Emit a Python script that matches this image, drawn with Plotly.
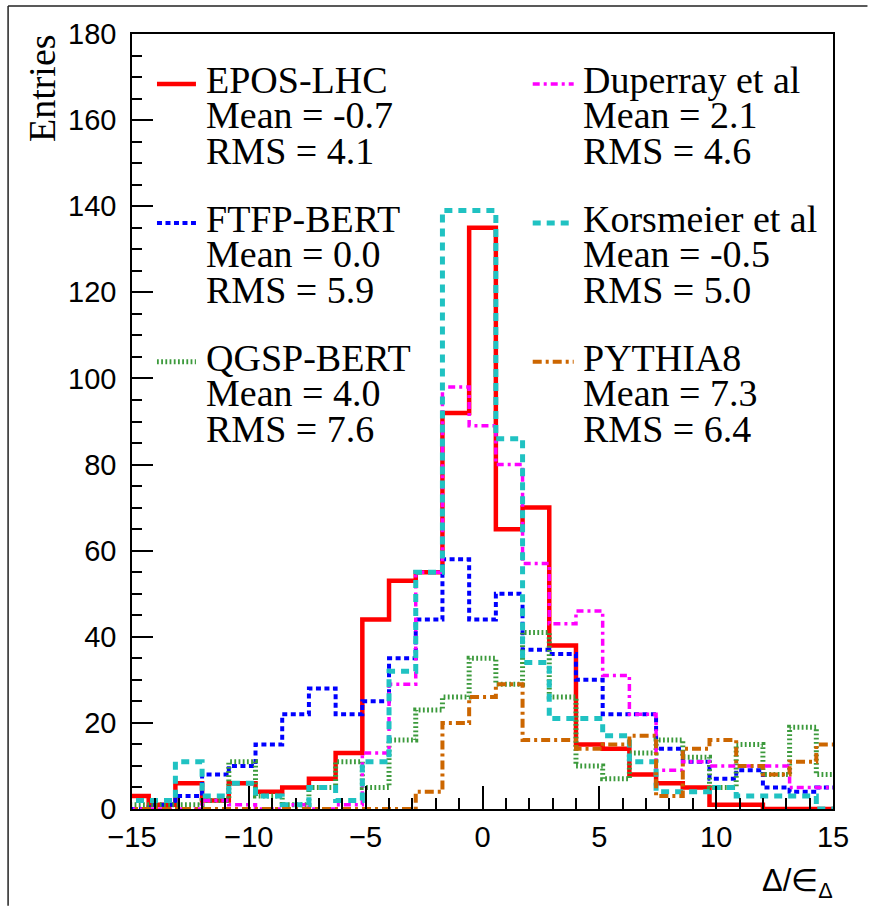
import numpy as np
import plotly.graph_objects as go

# ---------------- data ----------------
# histogram binning: 27 visible bins of width 8/7, edges at odd multiples of 4/7
bin_low = -108 / 7
bin_high = 108 / 7
n_bins = 27

epos_lhc = [3, 1, 6, 2, 6, 4, 5, 7, 13, 44, 53, 55, 92, 135, 65, 70, 38, 15, 14, 8, 6, 5, 1, 1, 0, 0, 0]
ftfp_bert = [0, 1, 3, 8, 10, 15, 22, 28, 22, 25, 35, 44, 58, 44, 50, 37, 36, 30, 22, 22, 14, 11, 7, 9, 5, 4, 5]
qgsp_bert = [1, 1, 1, 2, 11, 3, 1, 5, 11, 5, 16, 23, 26, 35, 29, 41, 26, 10, 7, 13, 16, 12, 5, 15, 8, 19, 8]
duperray = [0, 0, 0, 2, 1, 0, 1, 0, 1, 13, 29, 55, 98, 89, 80, 57, 43, 46, 31, 22, 9, 11, 10, 10, 10, 5, 5]
korsmeier = [2, 2, 11, 3, 6, 3, 1, 5, 2, 11, 32, 55, 139, 139, 86, 34, 21, 21, 17, 11, 4, 4, 5, 3, 3, 3, 0]
pythia8 = [0, 0, 0, 0, 0, 0, 0, 0, 0, 0, 0, 4, 20, 26, 29, 16, 16, 14, 15, 17, 3, 14, 16, 10, 8, 11, 15]

series_names = ["EPOS-LHC", "FTFP-BERT", "QGSP-BERT", "Duperray et al", "Korsmeier et al", "PYTHIA8"]
series_means = ["-0.7", "0.0", "4.0", "2.1", "-0.5", "7.3"]
series_rms = ["4.1", "5.9", "7.6", "4.6", "5.0", "6.4"]
series_values = [epos_lhc, ftfp_bert, qgsp_bert, duperray, korsmeier, pythia8]

x_ticks = [-15, -10, -5, 0, 5, 10, 15]
y_ticks = [0, 20, 40, 60, 80, 100, 120, 140, 160, 180]

# ---------------- styles ----------------
styles = [
    dict(color="#ff0000", width=4.5, dash="solid"),
    dict(color="#0000ff", width=4, dash="5px,3.5px"),
    dict(color="#3c9a3c", width=5, dash="1.8px,2.4px"),
    dict(color="#ff00ff", width=3.5, dash="7px,4px,3px,4px"),
    dict(color="#20c2c2", width=5, dash="8px,6px"),
    dict(color="#cc6600", width=4, dash="9px,4px,3px,4px"),
]

W, H = 875, 906
L, R, T, B = 132, 833.5, 34, 809.3


def px_x(px):
    return (px - L) / (R - L)


def px_y(py):
    return (B - py) / (B - T)


edges = np.linspace(bin_low, bin_high, n_bins + 1)

fig = go.Figure()
for vals, st, name in zip(series_values, styles, series_names):
    fig.add_trace(go.Scatter(
        x=edges, y=list(vals) + [vals[-1]],
        mode="lines", line_shape="hv", name=name,
        line=dict(color=st["color"], width=st["width"], dash=st["dash"]),
        hoverinfo="skip",
    ))

# ---------------- legend (drawn as text + line samples) ----------------
serif = "Liberation Serif, Times New Roman, serif"
col_sym_x = [(157, 196), (533, 574)]
col_txt_x = [205, 582]
first_baselines = [92, 231, 370]

shapes = []
annotations = []
for i, (name, mean, rms, st) in enumerate(zip(series_names, series_means, series_rms, styles)):
    col = i // 3
    row = i % 3
    b0 = first_baselines[row]
    sx0, sx1 = col_sym_x[col]
    sy = b0 - 8
    shapes.append(dict(type="line", xref="paper", yref="paper",
                       x0=px_x(sx0), x1=px_x(sx1), y0=px_y(sy), y1=px_y(sy),
                       line=dict(color=st["color"], width=st["width"], dash=st["dash"])))
    lines = [name, "Mean = " + mean, "RMS = " + rms]
    txt = "<br>".join("<span style='font-size:38px'>%s</span>" % s for s in lines)
    annotations.append(dict(
        text=txt, xref="paper", yref="paper", x=px_x(col_txt_x[col]), y=px_y(b0 - 34),
        xanchor="left", yanchor="top", align="left", showarrow=False,
        font=dict(family=serif, size=27.3, color="black"), borderpad=0,
    ))

# axis titles
annotations.append(dict(
    text="Entries", xref="paper", yref="paper", x=px_x(42), y=px_y(32),
    xanchor="center", yanchor="top", textangle=-90, showarrow=False,
    font=dict(family=serif, size=38, color="black"),
))
annotations.append(dict(
    text="Δ/∈<sub>Δ</sub>", xref="paper", yref="paper", x=px_x(836), y=px_y(905),
    xanchor="right", yanchor="bottom", showarrow=False,
    font=dict(family="Liberation Sans, Arial, sans-serif", size=31, color="black"),
))

# outer canvas border (top and left)
shapes.append(dict(type="line", xref="paper", yref="paper", x0=px_x(8), x1=px_x(868),
                   y0=px_y(6), y1=px_y(6), line=dict(color="#222222", width=1.5)))
shapes.append(dict(type="line", xref="paper", yref="paper", x0=px_x(8), x1=px_x(8),
                   y0=px_y(6), y1=px_y(906), line=dict(color="#222222", width=1.5)))

tickfont = dict(family="Liberation Sans, Arial, sans-serif", size=29, color="black")
fig.update_layout(
    width=W, height=H,
    margin=dict(l=L, r=W - R, t=T, b=H - B, pad=0),
    paper_bgcolor="white", plot_bgcolor="white",
    showlegend=False,
    shapes=shapes, annotations=annotations,
    xaxis=dict(range=[-15, 15], tickmode="array", tickvals=x_ticks,
               ticks="inside", ticklen=23, tickwidth=1.5, tickcolor="black",
               minor=dict(dtick=1, tick0=0, ticks="inside", ticklen=11, tickwidth=1.5, tickcolor="black"),
               showline=True, linecolor="black", linewidth=1.5, mirror=True,
               showgrid=False, zeroline=False, tickfont=tickfont, ticklabelstandoff=1),
    yaxis=dict(range=[0, 180], tickmode="array", tickvals=y_ticks,
               ticks="inside", ticklen=21, tickwidth=1.5, tickcolor="black",
               minor=dict(dtick=5, tick0=0, ticks="inside", ticklen=10, tickwidth=1.5, tickcolor="black"),
               showline=True, linecolor="black", linewidth=1.5, mirror=True,
               showgrid=False, zeroline=False, tickfont=tickfont, ticklabelstandoff=8),
)

fig.write_html("out.html")
